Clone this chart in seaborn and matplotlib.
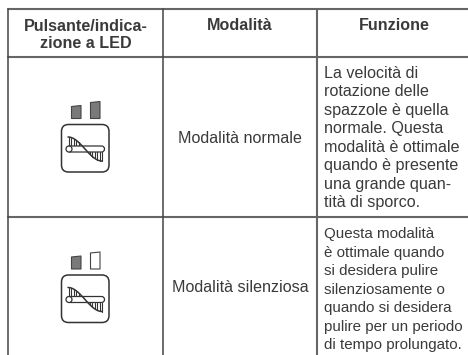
import numpy as np
import pandas as pd
import matplotlib
matplotlib.use("Agg")
import matplotlib.pyplot as plt
from matplotlib.patches import FancyBboxPatch, Polygon
import seaborn as sns

headers = ["Pulsante/indica-\nzione a LED", "Modalità", "Funzione"]
modes = ["Modalità normale", "Modalità silenziosa"]
functions = [
    ["La velocità di", "rotazione delle", "spazzole è quella", "normale. Questa",
     "modalità è ottimale", "quando è presente", "una grande quan-", "tità di sporco."],
    ["Questa modalità", "è ottimale quando", "si desidera pulire", "silenziosamente o",
     "quando si desidera", "pulire per un periodo", "di tempo prolungato."],
]
led_states = [[True, True], [True, False]]

INK = "#3a3a3a"
sns.set_theme(style="white", rc={"font.family": ["Liberation Sans", "DejaVu Sans"]})
fig, ax = plt.subplots(figsize=(4.68, 3.55), dpi=100)
ax.set_position([0, 0, 1, 1])

rules = pd.DataFrame({
    "x": [8, 468, 8, 468, 8, 468],
    "y": [9, 9, 56.5, 56.5, 217, 217],
    "rule": ["a", "a", "b", "b", "c", "c"],
})
sns.lineplot(data=rules, x="x", y="y", units="rule", estimator=None, color="#666666",
             lw=1.5, ax=ax, legend=False)
cols = pd.DataFrame({
    "x": [8, 8, 162.5, 162.5, 317, 317],
    "y": [9, 355, 9, 355, 9, 355],
    "rule": ["a", "a", "b", "b", "c", "c"],
})
for rule, lw, c in [("a", 1.1, "#444444"), ("b", 1.1, "#444444"), ("c", 1.5, "#666666")]:
    sns.lineplot(data=cols[cols.rule == rule], x="x", y="y", color=c, lw=lw, ax=ax,
                 legend=False, estimator=None)
ax.set_xlim(0, 468)
ax.set_ylim(355, 0)
ax.axis("off")

FS = 11.6
for i, (h, cx) in enumerate(zip(headers, [85.5, 240, 394])):
    ax.text(cx, 35 if i == 0 else 26, h, ha="center", va="center", fontsize=FS,
            fontweight="bold", color=INK, linespacing=1.1)

for m, cy in zip(modes, [138.5, 288]):
    ax.text(240, cy, m, ha="center", va="center", fontsize=FS, color=INK)

for lines, y0, fs in zip(functions, [73, 234], [FS, 10.9]):
    for j, t in enumerate(lines):
        ax.text(324, y0 + j * 18.55, t, ha="left", va="center", fontsize=fs, color=INK)


def helix(x, cy):
    return cy - 12 * np.cos((x - 68) / 34 * np.pi)


def icon(top, leds):
    shapes = [(71.5, 81, top - 18, top - 19, top - 6), (90.5, 100, top - 22, top - 23, top - 6)]
    for (x0, x1, yl, yr, yb), on in zip(shapes, leds):
        ax.add_patch(Polygon([(x0, yl), (x1, yr), (x1, yb), (x0, yb)], closed=True,
                             fc="#7a7a7a" if on else "white", ec="#444444", lw=0.8,
                             joinstyle="round"))
    ax.add_patch(FancyBboxPatch((66.5, top + 5), 37.5, 37.5,
                                boxstyle="round,pad=5,rounding_size=7", fc="white",
                                ec="#333333", lw=1.1))
    cy = top + 24.5
    for xb in np.arange(69, 83, 2.4):
        ax.plot([xb, xb], [helix(xb, cy), cy - 3], color="#333333", lw=0.8, zorder=3)
    for xb in np.arange(90, 103, 2.4):
        ax.plot([xb, xb], [cy + 3, helix(xb, cy)], color="#333333", lw=0.8, zorder=3)
    ax.add_patch(FancyBboxPatch((69, cy - 1), 33.5, 2, boxstyle="round,pad=2,rounding_size=3",
                                fc="white", ec="#333333", lw=0.9, zorder=4))
    ax.add_patch(plt.Circle((69, cy), 3, fc="white", ec="#333333", lw=0.9, zorder=5))
    xs = np.linspace(68, 102, 60)
    ax.plot(xs, helix(xs, cy), color="#333333", lw=1.1, zorder=6)


for top, leds in zip([124.5, 275], led_states):
    icon(top, leds)

fig.savefig("out.png", dpi=100)
